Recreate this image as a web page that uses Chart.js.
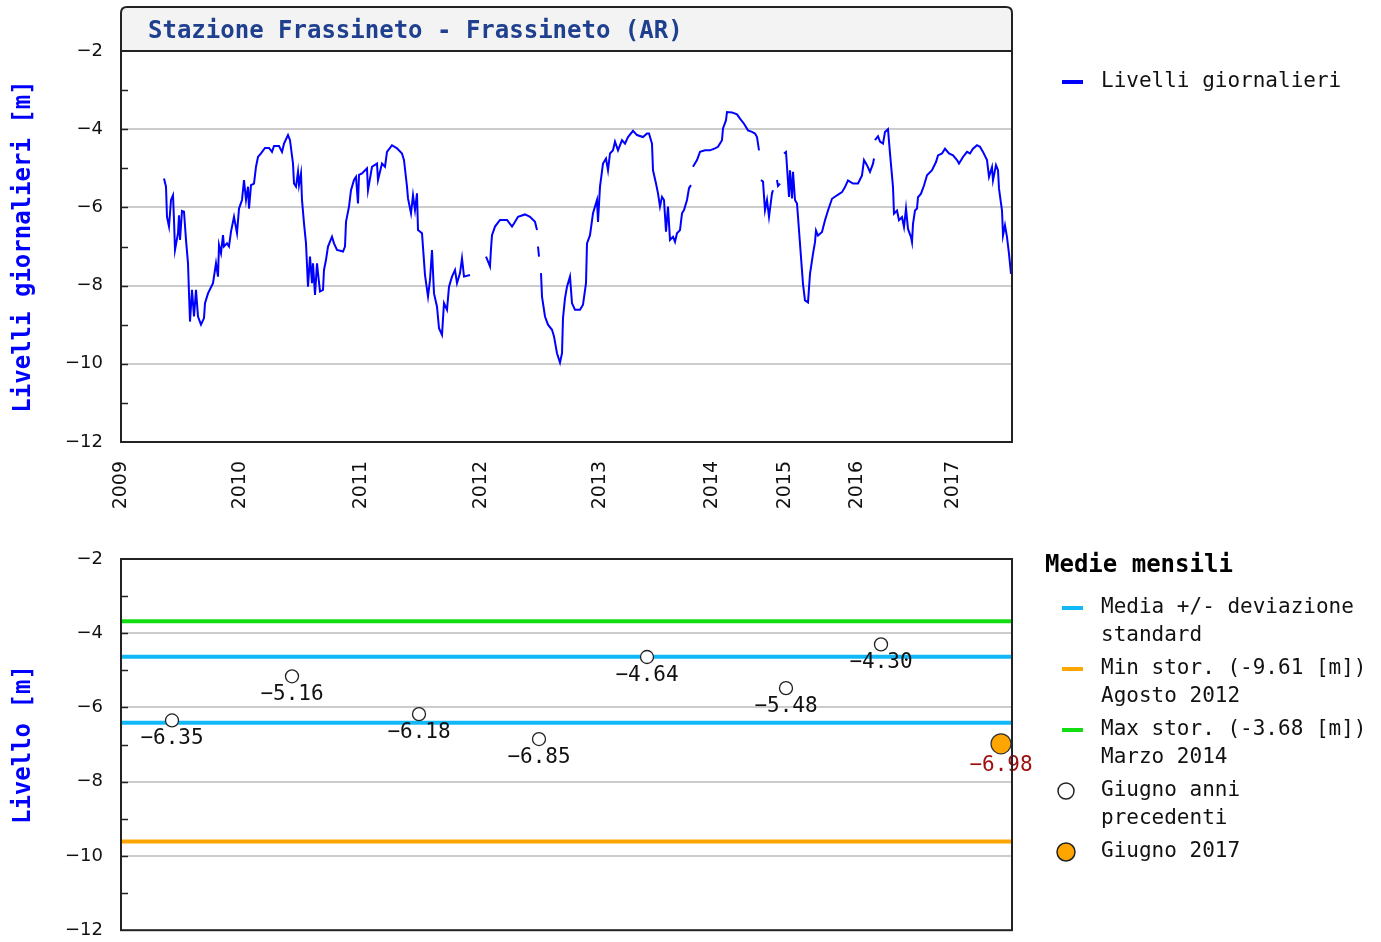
<!DOCTYPE html>
<html>
<head>
<meta charset="utf-8">
<script src="https://cdn.jsdelivr.net/npm/chart.js@4.4.1/dist/chart.umd.min.js"></script>
<style>
  body { margin: 0; background: #fff; overflow: hidden; }
  #wrap { position: relative; width: 1381px; height: 942px; overflow: hidden; }
  canvas { position: absolute; left: 0; }
</style>
</head>
<body>
<div id="wrap">
  <canvas id="daily" width="1381" height="525" style="top:0"></canvas>
  <canvas id="monthly" width="1381" height="434" style="top:525px"></canvas>
</div>
<script>
// x axis is a sample index (the source plots days with data, so years are not evenly spaced)
const idxMax = 891;
const yearLabels = ['2009', '2010', '2011', '2012', '2013', '2014', '2015', '2016', '2017'];
const yearIdx = [0, 119, 240, 360, 479, 591, 664, 736, 832];

// daily levels [m], null = missing data
const dayIdx = [
  43, 45, 46, 48, 50, 52, 53, 54, 57, 58, 59, 61, 63, 65, 67, 68, 69, 71, 73, 75,
  77, 80, 83, 84, 87, 92, 95, 97, 98, 100, 102, 103, 106, 108, 110, 113, 116, 118, 121, 123,
  125, 127, 128, 130, 133, 135, 137, 140, 144, 148, 151, 153, 158, 161, 163, 167, 169, 172, 173, 175,
  177, 178, 180, 181, 183, 185, 187, 189, 191, 192, 194, 196, 197, 199, 202, 203, 205, 207, 211, 213,
  216, 222, 224, 225, 228, 230, 233, 235, 237, 238, 241, 246, 247, 251, 256, 257, 261, 264, 266, 271,
  276, 281, 283, 286, 287, 290, 292, 294, 296, 297, 301, 304, 307, 309, 311, 313, 316, 318, 321, 323,
  326, 328, 331, 334, 336, 339, 341, 343, 349, 350, 365, 367, 369, 370, 371, 374, 379, 386, 391, 393,
  397, 404, 409, 414, 416, 416.5, 417, 418, 419, 420, 421, 424, 427, 431, 433, 436, 439, 441, 442, 444,
  446, 449, 451, 454, 459, 462, 465, 466, 469, 472, 476, 477, 479, 482, 485, 487, 489, 492, 494, 497,
  501, 504, 507, 512, 516, 522, 526, 528, 531, 532, 535, 537, 539, 541, 543, 545, 547, 549, 552, 554,
  556, 559, 561, 563, 566, 568, 570, 571, 572, 576, 579, 584, 589, 594, 597, 601, 602, 605, 606, 611,
  616, 619, 623, 627, 631, 634, 636, 638, 639, 640, 642, 644, 646, 648, 651, 652, 654, 656, 657, 659,
  661, 663, 665, 666, 668, 669, 671, 672, 674, 676, 679, 682, 684, 687, 689, 692, 694, 695, 697, 701,
  704, 707, 711, 716, 721, 724, 727, 732, 737, 741, 743, 746, 749, 752, 753, 753.5, 754, 757, 759, 762,
  764, 767, 769, 772, 773, 776, 778, 781, 783, 785, 787, 790, 791, 792, 794, 796, 797, 800, 803, 806,
  811, 815, 817, 821, 824, 828, 832, 836, 838, 842, 846, 849, 852, 856, 859, 862, 866, 868, 871, 872,
  875, 877, 878, 881, 882, 884, 886, 888, 890
];
const dailyLevel = [
  -5.26, -5.47, -6.24, -6.49, -5.81, -5.69, -6.32, -7.09, -6.66, -6.2, -6.83, -6.09, -6.11, -6.83, -7.43, -8.2, -8.92, -8.11, -8.79, -8.11,
  -8.79, -9.0, -8.83, -8.45, -8.2, -7.94, -7.43, -7.77, -6.96, -7.17, -6.71, -7.0, -6.92, -7.0, -6.62, -6.24, -6.66, -6.03, -5.81, -5.3,
  -5.81, -5.47, -6.03, -5.43, -5.39, -4.96, -4.71, -4.62, -4.48, -4.48, -4.58, -4.43, -4.43, -4.58, -4.37, -4.15, -4.28, -4.88, -5.39, -5.47,
  -5.09, -5.43, -5.13, -5.81, -6.41, -6.92, -8.03, -7.26, -7.94, -7.43, -8.24, -7.43, -7.68, -8.15, -8.11, -7.6, -7.34, -7.0, -6.75, -6.92,
  -7.09, -7.13, -7.0, -6.37, -5.98, -5.56, -5.3, -5.22, -5.9, -5.17, -5.13, -5.0, -5.56, -4.96, -4.88, -5.3, -4.88, -4.96, -4.58, -4.41,
  -4.49, -4.62, -4.79, -5.47, -5.77, -6.15, -5.69, -6.07, -5.64, -6.58, -6.66, -7.73, -8.28, -7.86, -7.09, -8.2, -8.54, -9.09, -9.26, -8.45,
  -8.62, -8.03, -7.77, -7.6, -7.94, -7.68, -7.3, -7.77, -7.73, null, -7.26, -7.38, -7.51, -7.05, -6.71, -6.49, -6.32, -6.32, -6.49, -6.41,
  -6.24, -6.18, -6.24, -6.37, -6.58, null, -7.0, -7.26, null, -7.68, -8.28, -8.79, -9.0, -9.13, -9.3, -9.73, -9.97, -9.73, -8.83, -8.32,
  -8.03, -7.77, -8.45, -8.62, -8.62, -8.49, -7.94, -6.92, -6.71, -6.15, -5.81, -6.37, -5.47, -4.88, -4.75, -5.05, -4.62, -4.54, -4.32, -4.54,
  -4.28, -4.37, -4.2, -4.04, -4.15, -4.2, -4.11, -4.11, -4.37, -5.05, -5.39, -5.64, -5.98, -5.73, -5.81, -6.62, -5.98, -6.83, -6.75, -6.88,
  -6.66, -6.58, -6.15, -6.07, -5.81, -5.51, -5.43, null, -4.96, -4.79, -4.58, -4.54, -4.54, -4.49, -4.45, -4.28, -3.98, -3.77, -3.56, -3.57,
  -3.62, -3.73, -3.86, -4.03, -4.07, -4.11, -4.2, -4.54, null, -5.3, -5.34, -6.07, -5.81, -6.24, -5.64, -5.56, null, -5.3, -5.45, -5.39,
  null, -4.62, -4.58, -4.96, -5.73, -5.05, -5.77, -5.09, -5.81, -5.9, -6.93, -7.96, -8.38, -8.43, -7.7, -7.19, -6.89, -6.59, -6.72, -6.63,
  -6.33, -6.08, -5.78, -5.69, -5.61, -5.48, -5.31, -5.39, -5.39, -5.18, -4.79, -4.92, -5.09, -4.88, -4.75, null, -4.28, -4.18, -4.32, -4.37,
  -4.07, -4.0, -4.62, -5.48, -6.16, -6.08, -6.33, -6.25, -6.5, -6.03, -6.55, -6.76, -6.89, -6.42, -6.08, -6.03, -5.74, -5.65, -5.44, -5.18,
  -5.05, -4.84, -4.67, -4.62, -4.5, -4.62, -4.67, -4.79, -4.88, -4.71, -4.58, -4.62, -4.5, -4.41, -4.45, -4.58, -4.79, -5.22, -4.97, -5.31,
  -4.92, -5.05, -5.52, -6.08, -6.72, -6.46, -6.76, -7.19, -7.7
];

// June monthly means [m]
const juneYears = ['2009', '2010', '2011', '2012', '2013', '2015', '2016'];
const juneIdx = [51, 171, 298, 418, 526, 665, 760];
const juneLevel = [-6.35, -5.16, -6.18, -6.85, -4.64, -5.48, -4.30];
const currentYear = ['2017'];
const currentIdx = [880];
const currentLevel = [-6.98];
const meanLevel = -5.52;
const stdDev = 0.89;
const minStor = -9.61;
const maxStor = -3.68;

const stationTitle = 'Stazione Frassineto - Frassineto (AR)';

const MONO = '"DejaVu Sans Mono", "Liberation Mono", monospace';
const SANS = '"DejaVu Sans", "Liberation Sans", sans-serif';
const minus = s => String(s).replace('-', '\u2212');

function yAxis(title) {
  return {
    min: -12, max: -2,
    ticks: {
      stepSize: 1, padding: 18, color: '#111',
      font: { family: SANS, size: 18 },
      callback: v => (v % 2 === 0 ? minus(v) : '')
    },
    grid: {
      drawTicks: false, lineWidth: 2,
      color: c => (c.tick && c.tick.value % 2 === 0 && c.tick.value > -12 && c.tick.value < -2) ? '#cccccc' : 'rgba(0,0,0,0)'
    },
    border: { display: false },
    title: {
      display: true, text: title, color: '#0000ff',
      font: { family: MONO, size: 24, weight: 'bold' },
      padding: { top: 9, bottom: 0 }
    },
    afterFit: s => { s.width = 121; }
  };
}

// black frame + short inner tick marks every metre
const frame = {
  id: 'frame',
  afterDraw(chart) {
    const { ctx, chartArea: a } = chart;
    const y = chart.scales.y;
    ctx.save();
    ctx.strokeStyle = '#222';
    ctx.lineWidth = 1.5;
    for (let v = -11; v <= -3; v++) {
      const py = Math.round(y.getPixelForValue(v)) + 0.5;
      ctx.beginPath(); ctx.moveTo(a.left, py); ctx.lineTo(a.left + 7, py); ctx.stroke();
    }
    ctx.lineWidth = 2;
    ctx.strokeRect(a.left, a.top, a.right - a.left, a.bottom - a.top);
    ctx.restore();
  }
};

const titleBox = {
  id: 'titleBox',
  afterDraw(chart, args, opts) {
    const { ctx, chartArea: a } = chart;
    const top = 7, r = 6;
    ctx.save();
    ctx.beginPath();
    ctx.moveTo(a.left, a.top);
    ctx.lineTo(a.left, top + r);
    ctx.quadraticCurveTo(a.left, top, a.left + r, top);
    ctx.lineTo(a.right - r, top);
    ctx.quadraticCurveTo(a.right, top, a.right, top + r);
    ctx.lineTo(a.right, a.top);
    ctx.closePath();
    ctx.fillStyle = '#f3f3f3';
    ctx.fill();
    ctx.lineWidth = 2;
    ctx.strokeStyle = '#222';
    ctx.stroke();
    ctx.fillStyle = '#1f3f8f';
    ctx.font = 'bold 24px ' + MONO;
    ctx.textBaseline = 'middle';
    ctx.fillText(opts.text, a.left + 27, (top + a.top) / 2 + 3);
    ctx.restore();
  }
};

// legend on the right side
const sideLegend = {
  id: 'sideLegend',
  afterDraw(chart, args, opts) {
    const ctx = chart.ctx;
    ctx.save();
    ctx.textBaseline = 'middle';
    if (opts.header) {
      ctx.fillStyle = '#000';
      ctx.font = 'bold 24px ' + MONO;
      ctx.fillText(opts.header, 1045, opts.headerY);
    }
    let y = opts.startY;
    opts.items.forEach(it => {
      if (it.type === 'line') {
        ctx.fillStyle = it.color;
        ctx.fillRect(1062, y - 2, 21, 4);
      } else {
        ctx.beginPath();
        ctx.arc(1066, y, it.radius, 0, Math.PI * 2);
        ctx.fillStyle = it.color;
        ctx.fill();
        ctx.lineWidth = 1.5;
        ctx.strokeStyle = '#222';
        ctx.stroke();
      }
      ctx.fillStyle = '#111';
      ctx.font = '21px ' + MONO;
      it.text.forEach((t, k) => ctx.fillText(t, 1101, y + k * 28));
      y += it.text.length * 28 + 5;
    });
    ctx.restore();
  }
};

// value labels under the June points
const valueLabels = {
  id: 'valueLabels',
  afterDatasetsDraw(chart) {
    const ctx = chart.ctx;
    ctx.save();
    ctx.font = '21px ' + MONO;
    ctx.textAlign = 'center';
    ctx.textBaseline = 'middle';
    chart.data.datasets.forEach((ds, i) => {
      if (!ds.labelColor) return;
      ctx.fillStyle = ds.labelColor;
      chart.getDatasetMeta(i).data.forEach((pt, j) => {
        ctx.fillText(minus(ds.data[j].y.toFixed(2)), pt.x, pt.y + ds.pointRadius + 12);
      });
    });
    ctx.restore();
  }
};

new Chart(document.getElementById('daily'), {
  type: 'line',
  data: {
    datasets: [{
      label: 'Livelli giornalieri',
      data: dayIdx.map((x, i) => ({ x: x, y: dailyLevel[i] })),
      borderColor: '#0000ff',
      borderWidth: 2,
      pointRadius: 0,
      tension: 0,
      spanGaps: false
    }]
  },
  options: {
    responsive: false,
    animation: false,
    layout: { padding: { top: 51, right: 369, left: 0, bottom: 0 } },
    scales: {
      x: {
        type: 'linear', min: 0, max: idxMax,
        afterBuildTicks: s => { s.ticks = yearIdx.map(v => ({ value: v })); },
        ticks: {
          autoSkip: false, minRotation: 90, maxRotation: 90, padding: 19, color: '#111',
          font: { family: SANS, size: 19 },
          callback: v => yearLabels[yearIdx.indexOf(v)]
        },
        grid: { display: false, drawTicks: false },
        border: { display: false },
        afterFit: s => { s.height = 83; }
      },
      y: yAxis('Livelli giornalieri [m]')
    },
    plugins: {
      legend: { display: false },
      tooltip: { enabled: false },
      titleBox: { text: stationTitle },
      sideLegend: {
        startY: 82,
        items: [{ type: 'line', color: '#0000ff', text: ['Livelli giornalieri'] }]
      }
    }
  },
  plugins: [frame, titleBox, sideLegend]
});

new Chart(document.getElementById('monthly'), {
  type: 'scatter',
  data: {
    datasets: [
      {
        label: 'Giugno ' + currentYear[0],
        data: currentIdx.map((x, i) => ({ x: x, y: currentLevel[i] })),
        pointRadius: 10, backgroundColor: '#ffa500', borderColor: '#333', borderWidth: 1.2,
        labelColor: '#a01010', clip: false
      },
      {
        label: 'Giugno anni precedenti',
        data: juneIdx.map((x, i) => ({ x: x, y: juneLevel[i] })),
        pointRadius: 6.5, backgroundColor: '#ffffff', borderColor: '#222', borderWidth: 1.3,
        labelColor: '#111', clip: false
      },
      {
        label: 'Max stor.',
        data: [{ x: 0, y: maxStor }, { x: idxMax, y: maxStor }],
        showLine: true, borderColor: '#11dd11', borderWidth: 4, pointRadius: 0
      },
      {
        label: 'Media + dev.',
        data: [{ x: 0, y: meanLevel + stdDev }, { x: idxMax, y: meanLevel + stdDev }],
        showLine: true, borderColor: '#10b8f8', borderWidth: 4, pointRadius: 0
      },
      {
        label: 'Media - dev.',
        data: [{ x: 0, y: meanLevel - stdDev }, { x: idxMax, y: meanLevel - stdDev }],
        showLine: true, borderColor: '#10b8f8', borderWidth: 4, pointRadius: 0
      },
      {
        label: 'Min stor.',
        data: [{ x: 0, y: minStor }, { x: idxMax, y: minStor }],
        showLine: true, borderColor: '#ffa500', borderWidth: 4, pointRadius: 0
      }
    ]
  },
  options: {
    responsive: false,
    animation: false,
    layout: { padding: { top: 34, right: 369, left: 0, bottom: 0 } },
    scales: {
      x: {
        type: 'linear', min: 0, max: idxMax,
        ticks: { display: false },
        grid: { display: false, drawTicks: false },
        border: { display: false },
        afterFit: s => { s.height = 13; }
      },
      y: yAxis('Livello [m]')
    },
    plugins: {
      legend: { display: false },
      tooltip: { enabled: false },
      sideLegend: {
        header: 'Medie mensili', headerY: 41, startY: 83,
        items: [
          { type: 'line', color: '#10b8f8', text: ['Media +/- deviazione', 'standard'] },
          { type: 'line', color: '#ffa500', text: ['Min stor. (' + minStor.toFixed(2) + ' [m])', 'Agosto 2012'] },
          { type: 'line', color: '#11dd11', text: ['Max stor. (' + maxStor.toFixed(2) + ' [m])', 'Marzo 2014'] },
          { type: 'circle', color: '#ffffff', radius: 8, text: ['Giugno anni', 'precedenti'] },
          { type: 'circle', color: '#ffa500', radius: 9, text: ['Giugno ' + currentYear[0]] }
        ]
      }
    }
  },
  plugins: [frame, valueLabels, sideLegend]
});
</script>
</body>
</html>
